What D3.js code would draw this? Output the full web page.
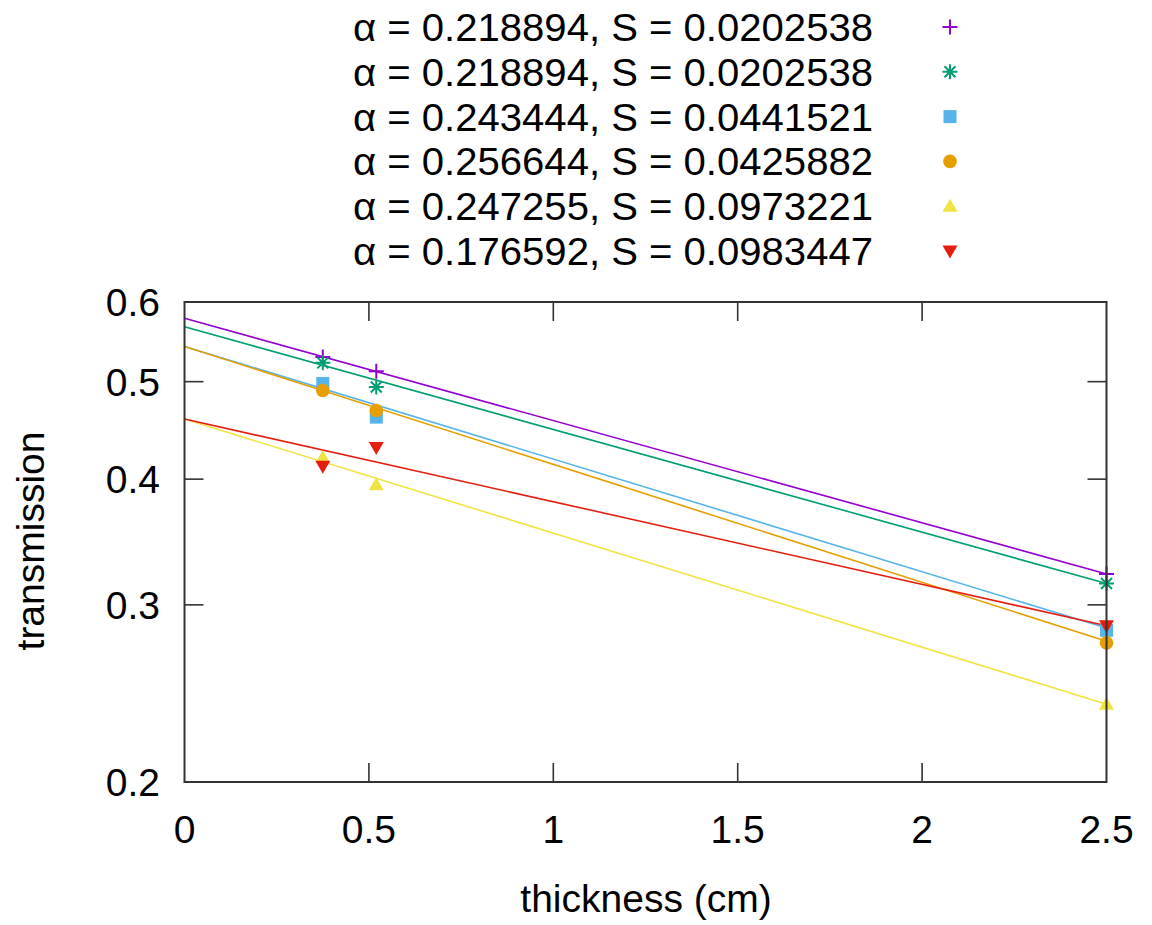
<!DOCTYPE html>
<meta charset="utf-8">
<style>
    body { margin: 0; background: #fff; }
    svg { display: block; font-family: "Liberation Sans", Arial, sans-serif; }
    text { fill: #000; font-size: 39px; }
</style>
<svg width="1152" height="925"></svg>
<script src="https://cdn.jsdelivr.net/npm/d3@7"></script>
<script>
    // valores
    var legendas = [
        "α = 0.218894, S = 0.0202538",
        "α = 0.218894, S = 0.0202538",
        "α = 0.243444, S = 0.0441521",
        "α = 0.256644, S = 0.0425882",
        "α = 0.247255, S = 0.0973221",
        "α = 0.176592, S = 0.0983447"
    ];
    var cores = ["#9400d3", "#009e73", "#56b4e9", "#e69f00", "#f0e442", "#e51e10"];
    var marcadores = ["plus", "star", "square", "circle", "up", "down"];

    var espessuras = [0.375, 0.52, 2.5];
    var transmissao = [
        [0.529, 0.512, 0.322],
        [0.522, 0.494, 0.315],
        [0.498, 0.461, 0.283],
        [0.490, 0.468, 0.275],
        [0.420, 0.395, 0.239],
        [0.412, 0.430, 0.286]
    ];

    // retas ajustadas: valor em x = 0 e x = 2.5
    var ajusteX = [0, 2.5];
    var ajusteY = [
        [0.578, 0.322],
        [0.567, 0.315],
        [0.542, 0.2845],
        [0.542, 0.276],
        [0.459, 0.239],
        [0.459, 0.286]
    ];

    var xTicks = [0, 0.5, 1, 1.5, 2, 2.5];
    var yTicks = [0.2, 0.3, 0.4, 0.5, 0.6];

    var svg = d3.select("svg");
    var esq = 184.5, dir = 1106.5, topo = 302, base = 782;

    var x = d3.scaleLinear().domain([0, 2.5]).range([esq, dir]);
    var y = d3.scaleLog().domain([0.2, 0.6]).range([base, topo]);

    var tick = 19;
    var eixos = svg.append("g").attr("stroke", "#333").attr("stroke-width", 1.6);

    xTicks.forEach(function (t) {
        if (t > 0 && t < 2.5) {
            eixos.append("line").attr("x1", x(t)).attr("x2", x(t)).attr("y1", base).attr("y2", base - tick);
            eixos.append("line").attr("x1", x(t)).attr("x2", x(t)).attr("y1", topo).attr("y2", topo + tick);
        }
    });
    yTicks.forEach(function (t) {
        if (t > 0.2 && t < 0.6) {
            eixos.append("line").attr("x1", esq).attr("x2", esq + tick).attr("y1", y(t)).attr("y2", y(t));
            eixos.append("line").attr("x1", dir).attr("x2", dir - tick).attr("y1", y(t)).attr("y2", y(t));
        }
    });

    svg.selectAll(".xlab").data(xTicks).enter().append("text")
        .attr("text-anchor", "middle")
        .attr("x", function (d) { return x(d); })
        .attr("y", 843)
        .text(function (d) { return d; });

    svg.selectAll(".ylab").data(yTicks).enter().append("text")
        .attr("text-anchor", "end")
        .attr("x", 160)
        .attr("y", function (d) { return y(d) + 14; })
        .text(function (d) { return d; });

    svg.append("text")
        .attr("text-anchor", "middle")
        .attr("x", 646).attr("y", 912)
        .text("thickness (cm)");

    svg.append("text")
        .attr("text-anchor", "middle")
        .attr("transform", "translate(44,541) rotate(-90)")
        .text("transmission");

    // retas de ajuste
    var linha = d3.line().x(function (d) { return x(d[0]); }).y(function (d) { return y(d[1]); });
    ajusteY.forEach(function (v, i) {
        svg.append("path")
            .attr("d", linha(ajusteX.map(function (xx, j) { return [xx, v[j]]; })))
            .attr("fill", "none")
            .attr("stroke", cores[i])
            .attr("stroke-width", 1.6);
    });

    function marcador(g, tipo, cor) {
        var s = 7.5;
        if (tipo == "plus") {
            g.append("path").attr("d", "M" + (-s) + ",0H" + s + "M0," + (-s) + "V" + s)
                .attr("stroke", cor).attr("stroke-width", 2);
        } else if (tipo == "star") {
            var d = 5.5;
            g.append("path").attr("d", "M" + (-s) + ",0H" + s + "M0," + (-s) + "V" + s +
                "M" + (-d) + "," + (-d) + "L" + d + "," + d + "M" + (-d) + "," + d + "L" + d + "," + (-d))
                .attr("stroke", cor).attr("stroke-width", 2);
        } else if (tipo == "square") {
            g.append("rect").attr("x", -6.5).attr("y", -6.5).attr("width", 13).attr("height", 13).attr("fill", cor);
        } else if (tipo == "circle") {
            g.append("circle").attr("r", 6.8).attr("fill", cor);
        } else if (tipo == "up") {
            g.append("path").attr("d", "M0,-7.5L7.5,5.5L-7.5,5.5Z").attr("fill", cor);
        } else {
            g.append("path").attr("d", "M0,7.5L7.5,-5.5L-7.5,-5.5Z").attr("fill", cor);
        }
    }

    transmissao.forEach(function (serie, i) {
        serie.forEach(function (v, j) {
            var g = svg.append("g").attr("transform", "translate(" + x(espessuras[j]) + "," + y(v) + ")");
            marcador(g, marcadores[i], cores[i]);
        });
    });

    // moldura
    svg.append("rect")
        .attr("x", esq).attr("y", topo)
        .attr("width", dir - esq).attr("height", base - topo)
        .attr("fill", "none").attr("stroke", "#333").attr("stroke-width", 2);

    // legenda
    legendas.forEach(function (t, i) {
        var cy = 27 + i * 44.8;
        svg.append("text")
            .attr("text-anchor", "end")
            .attr("x", 873).attr("y", cy + 14)
            .attr("textLength", 520)
            .attr("lengthAdjust", "spacingAndGlyphs")
            .text(t);
        var g = svg.append("g").attr("transform", "translate(950," + cy + ")");
        marcador(g, marcadores[i], cores[i]);
    });
</script>
